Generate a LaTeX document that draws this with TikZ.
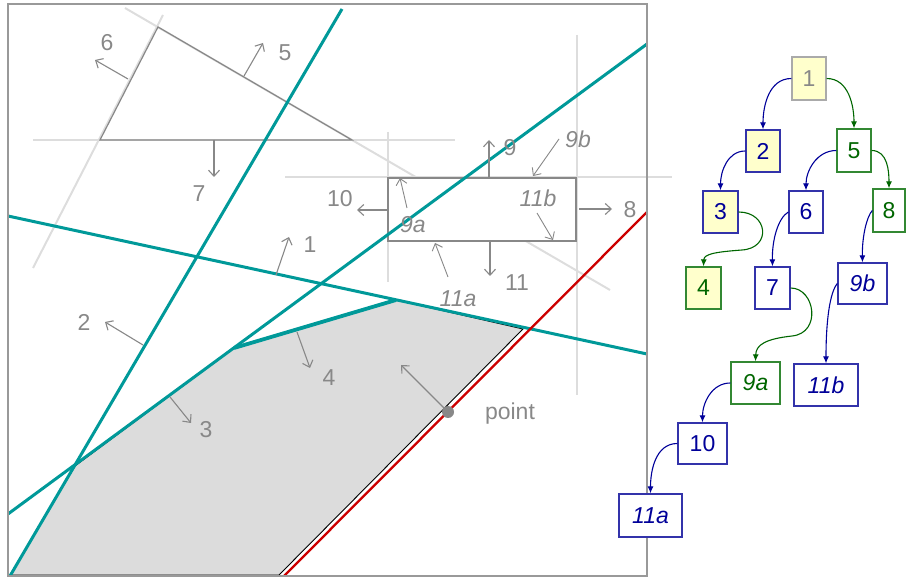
\documentclass[tikz,border=0pt]{standalone}
\usepackage{fontspec}
\setmainfont{Liberation Sans}
\usetikzlibrary{arrows.meta}
\definecolor{tealc}{RGB}{0,153,153}
\definecolor{redc}{RGB}{204,0,0}
\definecolor{labgray}{RGB}{136,136,136}
\definecolor{ghostgray}{RGB}{221,221,221}
\definecolor{framegray}{RGB}{153,153,153}
\definecolor{polyfill}{RGB}{220,220,220}
\definecolor{treeblue}{RGB}{51,51,170}
\definecolor{treebluetext}{RGB}{0,0,153}
\definecolor{treegreen}{RGB}{51,136,51}
\definecolor{treegreentext}{RGB}{0,102,0}
\definecolor{treeyellow}{RGB}{255,255,204}
\definecolor{treegrayline}{RGB}{170,170,170}
\begin{document}
\begin{tikzpicture}[x=1pt,y=1pt,
  lbl/.style={text=labgray, font=\fontsize{23}{27}\selectfont, inner sep=0pt},
  ilbl/.style={text=labgray, font=\fontsize{23}{27}\selectfont\itshape, inner sep=0pt},
  garrow/.style={draw=labgray, line width=1.1pt, -{Straight Barb[length=6pt,width=11pt]}},
  ghost/.style={draw=ghostgray, line width=2pt},
  tline/.style={draw=tealc, line width=3pt},
  tbox/.style={draw, line width=1.3pt, minimum height=42pt, minimum width=34pt, inner sep=0pt, font=\fontsize{23}{27}\selectfont},
  bluebox/.style={tbox, draw=treeblue, text=treebluetext},
  greenbox/.style={tbox, draw=treegreen, text=treegreentext},
  bconn/.style={draw=treebluetext, line width=1.1pt, -{Latex[length=7pt,width=6pt]}},
  gconn/.style={draw=treegreentext, line width=1.1pt, -{Latex[length=7pt,width=6pt]}}
]
\useasboundingbox (0,0) rectangle (906,-577);

% light construction lines
\draw[ghost] (163,-15) coordinate (g1a) -- (33,-268) coordinate (g1b);
\draw[ghost] (125,-8) coordinate (g2a) -- (610,-290) coordinate (g2b);
\draw[ghost] (33,-140) coordinate (g3a) -- (455,-140) coordinate (g3b);
\draw[ghost] (285,-177) coordinate (g4a) -- (672,-177) coordinate (g4b);
\draw[ghost] (388,-132) coordinate (g5a) -- (388,-282) coordinate (g5b);
\draw[ghost] (577,-35) coordinate (g6a) -- (577,-395) coordinate (g6b);

% triangle
\draw[labgray, line width=1.2pt] (158,-27) coordinate (t1) -- (352,-140) coordinate (t2) -- (100,-140) coordinate (t3) -- cycle;

% rectangle
\draw[labgray, line width=1.3pt, fill=white] (388,-178) coordinate (r1) rectangle (576,-241) coordinate (r2);

% feasible polygon
\filldraw[fill=polyfill, draw=black, line width=0.9pt]
  (10,-575) coordinate (pA) -- (75,-466) coordinate (pB) -- (234,-348) coordinate (pC)
  -- (396,-300) coordinate (pD) -- (523,-329) coordinate (pE) -- (279,-575) coordinate (pF) -- cycle;

% teal constraint lines
\draw[tline] (8,-216) coordinate (L1a) -- (647,-354) coordinate (L1b);
\draw[tline] (342,-9) coordinate (L2a) -- (10,-576) coordinate (L2b);
\draw[tline] (647,-44) coordinate (L3a) -- (8,-514) coordinate (L3b);
\draw[tline, line width=3.8pt] (pC) -- (pD);

% red line
\draw[redc, line width=2.3pt] (647,-212) coordinate (Ra) -- (284,-576) coordinate (Rb);

% normal arrows and labels
\draw[garrow] (128,-79) coordinate (a6s) -- (95,-60) coordinate (a6e);
\node[lbl] (l6) at (107,-43) {6};
\draw[garrow] (244,-76) coordinate (a5s) -- (263,-43) coordinate (a5e);
\node[lbl] (l5) at (285,-53) {5};
\draw[garrow] (214,-140) coordinate (a7s) -- (214,-177) coordinate (a7e);
\node[lbl] (l7) at (199,-194) {7};
\draw[garrow] (276,-275) coordinate (a1s) -- (289,-237) coordinate (a1e);
\node[lbl] (l1) at (310,-245) {1};
\draw[garrow] (143,-345) coordinate (a2s) -- (105,-322) coordinate (a2e);
\node[lbl] (l2) at (84,-322) {2};
\draw[garrow] (170,-397) coordinate (a3s) -- (191,-423) coordinate (a3e);
\node[lbl] (l3) at (206,-430) {3};
\draw[garrow] (297,-332) coordinate (a4s) -- (310,-368) coordinate (a4e);
\node[lbl] (l4) at (329,-378) {4};
\draw[garrow] (387,-210) coordinate (a10s) -- (357,-210) coordinate (a10e);
\node[lbl] (l10) at (340,-199) {10};
\draw[garrow] (489,-177) coordinate (a9s) -- (489,-140) coordinate (a9e);
\node[lbl] (l9) at (510,-148) {9};
\draw[garrow] (579,-209) coordinate (a8s) -- (612,-209) coordinate (a8e);
\node[lbl] (l8) at (630,-210) {8};
\draw[garrow] (490,-242) coordinate (a11s) -- (490,-276) coordinate (a11e);
\node[lbl] (l11) at (517,-283) {11};
\draw[garrow, line width=0.9pt] (407,-208) coordinate (a9as) -- (400,-178) coordinate (a9ae);
\node[ilbl] (l9a) at (413,-225) {9a};
\draw[garrow, line width=0.9pt] (559,-139) coordinate (a9bs) -- (533,-176) coordinate (a9be);
\node[ilbl] (l9b) at (578,-139) {9b};
\draw[garrow, line width=0.9pt] (537,-213) coordinate (a11bs) -- (553,-240) coordinate (a11be);
\node[ilbl] (l11b) at (538,-198) {11b};
\draw[garrow, line width=0.9pt] (448,-277) coordinate (a11as) -- (435,-243) coordinate (a11ae);
\node[ilbl] (l11a) at (458,-299) {11a};

% point
\fill[labgray] (448,-412) circle (6pt) coordinate (pt);
\node[circle, inner sep=0pt, minimum size=1pt] (ptn) at (448,-412) {};
\draw[garrow] (ptn) -- (401,-365) coordinate (apte);
\node[lbl] (lpt) at (510,-414) {point};

% frame
\draw[framegray, line width=1.5pt] (8,-4) coordinate (f1) rectangle (647,-576) coordinate (f2);

% tree
\node[tbox, draw=treegrayline, text=labgray, fill=treeyellow, minimum height=43pt] (n1) at (809,-78.5) {1};
\node[bluebox, fill=treeyellow] (n2) at (763,-151) {2};
\node[greenbox, fill=white, minimum height=43pt] (n5) at (854,-150.5) {5};
\node[bluebox, fill=treeyellow, minimum width=35pt] (n3) at (720.5,-212) {3};
\node[bluebox, fill=white] (n6) at (806,-212) {6};
\node[greenbox, fill=white, minimum width=32pt, minimum height=43pt] (n8) at (889,-210.5) {8};
\node[greenbox, fill=treeyellow, minimum width=35pt] (n4) at (703.5,-288) {4};
\node[bluebox, fill=white, minimum width=35pt] (n7) at (772.5,-288) {7};
\node[bluebox, fill=white, minimum width=49pt, minimum height=41pt, font=\fontsize{23}{27}\selectfont\itshape] (n9b) at (862.5,-283.5) {9b};
\node[greenbox, fill=white, minimum width=49pt, font=\fontsize{23}{27}\selectfont\itshape] (n9a) at (755.5,-383) {9a};
\node[bluebox, fill=white, minimum width=64pt, font=\fontsize{23}{27}\selectfont\itshape] (n11b) at (826,-385) {11b};
\node[bluebox, fill=white, minimum width=49pt, minimum height=41pt] (n10) at (702.5,-443.5) {10};
\node[bluebox, fill=white, minimum width=63pt, minimum height=43pt, font=\fontsize{23}{27}\selectfont\itshape] (n11a) at (650.5,-515.5) {11a};

\draw[bconn] (n1.west) to[out=180,in=90] (n2.north);
\draw[gconn] (n1.east) to[out=0,in=90] (n5.north);
\draw[bconn] (n2.west) to[out=180,in=90] (n3.north);
\draw[bconn] (n5.west) to[out=180,in=90] (n6.north);
\draw[gconn] (n5.east) to[out=0,in=90] (n8.north);
\draw[gconn] (n3.east) .. controls (768,-212) and (772,-248) .. (742,-250) coordinate (c34)
  .. controls (715,-252) and (704,-254) .. (n4.north);
\draw[bconn] (n6.west) .. controls (778,-218) and (772,-240) .. (n7.north);
\draw[bconn] (n8.west) .. controls (867,-216) and (862,-236) .. (n9b.north);
\draw[gconn] (n7.east) .. controls (815,-288) and (822,-333) .. (792,-336) coordinate (c79)
  .. controls (765,-339) and (756,-345) .. (n9a.north);
\draw[bconn] (n9b.west) .. controls (830,-292) and (826,-320) .. (n11b.north);
\draw[bconn] (n9a.west) to[out=180,in=90] (n10.north);
\draw[bconn] (n10.west) to[out=180,in=90] (n11a.north);
\end{tikzpicture}
\end{document}
